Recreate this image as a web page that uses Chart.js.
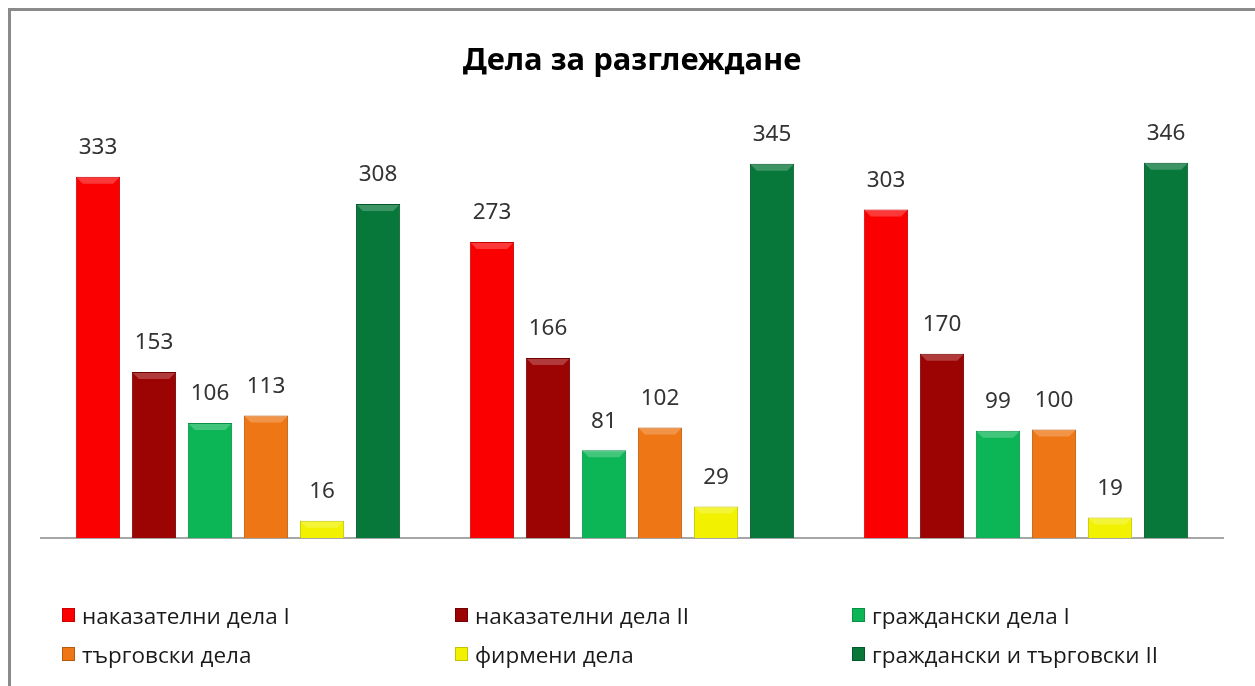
<!DOCTYPE html>
<html lang="bg">
<head>
<meta charset="utf-8">
<title>Дела за разглеждане</title>
<script src="https://cdn.jsdelivr.net/npm/chart.js@4/dist/chart.umd.min.js"></script>
<style>
    html, body { margin: 0; padding: 0; background: #fff; }
    #wrap { position: relative; width: 1255px; height: 686px; overflow: hidden; }
    #frame { position: absolute; left: 8px; top: 8px; width: 1300px; height: 700px;
             border-left: 3px solid #8a8a8a; border-top: 3px solid #8a8a8a; box-sizing: border-box; }
    #chart { position: absolute; left: 0; top: 0; }
    #legend { position: absolute; left: 0; top: 0; width: 1255px; height: 686px; pointer-events: none;
              font-family: 'Open Sans', sans-serif; font-size: 22.5px; color: #1a1a1a; }
    .item { position: absolute; display: flex; align-items: center; white-space: nowrap; }
    .box { width: 13px; height: 14px; margin-right: 7px; box-sizing: border-box; }
</style>
</head>
<body>
<div id="wrap">
    <div id="frame"></div>
    <canvas id="chart" width="1255" height="686"></canvas>
    <div id="legend"></div>
</div>
<script>
// данни
const categories = ['период 1', 'период 2', 'период 3'];
const seriesNames = [
    'наказателни дела I',
    'наказателни дела II',
    'граждански дела I',
    'търговски дела',
    'фирмени дела',
    'граждански и търговски II'
];
const nakazatelniI   = [333, 273, 303];
const nakazatelniII  = [153, 166, 170];
const grazhdanskiI   = [106, 81, 99];
const targovski      = [113, 102, 100];
const firmeni        = [16, 29, 19];
const grazhdTargII   = [308, 345, 346];

const colors  = ['#fb0000', '#9c0404', '#0cb656', '#ee7615', '#f2f200', '#07773a'];
const borders = ['#c80000', '#6e0202', '#089044', '#b85a0c', '#c2c200', '#05562a'];

const values = [nakazatelniI, nakazatelniII, grazhdanskiI, targovski, firmeni, grazhdTargII];

// лек релеф в горната част на колоните + етикети
const valueLabels = {
    id: 'valueLabels',
    afterDatasetsDraw(chart) {
        const ctx = chart.ctx;
        ctx.save();
        chart.data.datasets.forEach((ds, i) => {
            chart.getDatasetMeta(i).data.forEach(bar => {
                const l = bar.x - bar.width / 2, r = bar.x + bar.width / 2;
                const bev = Math.min(7, (bar.base - bar.y) / 2);
                ctx.fillStyle = 'rgba(255,255,255,0.22)';
                ctx.beginPath();
                ctx.moveTo(l + 1, bar.y + 1);
                ctx.lineTo(r - 1, bar.y + 1);
                ctx.lineTo(r - bev, bar.y + bev);
                ctx.lineTo(l + bev, bar.y + bev);
                ctx.closePath();
                ctx.fill();
            });
        });
        ctx.font = '22.5px "Noto Sans", sans-serif';
        ctx.fillStyle = '#333';
        ctx.textAlign = 'center';
        ctx.textBaseline = 'middle';
        chart.data.datasets.forEach((ds, i) => {
            chart.getDatasetMeta(i).data.forEach((bar, j) => {
                ctx.fillText(ds.data[j], bar.x, bar.y - 29);
            });
        });
        ctx.restore();
    }
};

const chart = new Chart(document.getElementById('chart'), {
    type: 'bar',
    data: {
        labels: categories,
        datasets: values.map((v, i) => ({
            label: seriesNames[i],
            data: v,
            backgroundColor: colors[i],
            borderColor: borders[i],
            borderWidth: 1,
            barPercentage: 0.79,
            categoryPercentage: 0.853
        }))
    },
    options: {
        responsive: false,
        animation: false,
        layout: { padding: { left: 41, right: 32, top: 0, bottom: 148 } },
        plugins: {
            legend: { display: false },
            tooltip: { enabled: false },
            title: {
                display: true,
                text: 'Дела за разглеждане',
                color: '#000',
                font: { family: "'Noto Sans', sans-serif", size: 31, weight: 'bold' },
                padding: { top: 43, bottom: 24 }
            }
        },
        scales: {
            x: {
                ticks: { display: false },
                grid: { display: false, drawTicks: false },
                border: { display: true, color: '#a6a6a6', width: 2 }
            },
            y: {
                display: false,
                min: 0,
                max: 400
            }
        }
    },
    plugins: [valueLabels]
});

// легенда в три колони
const legendEl = document.getElementById('legend');
const colX = [62, 455, 852];
const rowY = [615, 654];
chart.data.datasets.forEach((ds, i) => {
    const item = document.createElement('div');
    item.className = 'item';
    item.style.left = colX[i % 3] + 'px';
    item.style.top = (rowY[Math.floor(i / 3)] - 15) + 'px';
    item.style.height = '30px';
    const box = document.createElement('span');
    box.className = 'box';
    box.style.background = ds.backgroundColor;
    box.style.border = '1px solid ' + ds.borderColor;
    item.appendChild(box);
    item.appendChild(document.createTextNode(ds.label));
    legendEl.appendChild(item);
});
</script>
</body>
</html>
